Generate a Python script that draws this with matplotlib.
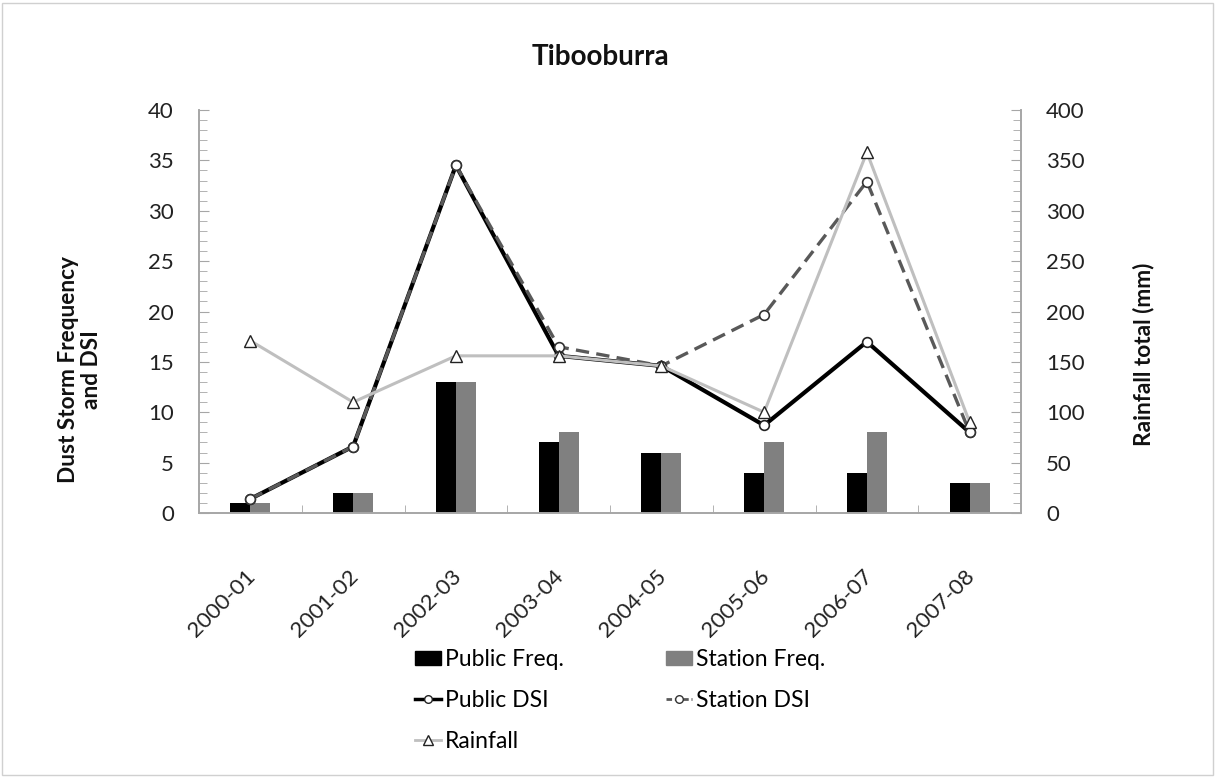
import matplotlib.pyplot as plt
import matplotlib.transforms as mtransforms
from matplotlib.patches import Rectangle, Patch
from matplotlib.ticker import MultipleLocator, FixedLocator
from matplotlib.lines import Line2D
import numpy as np

plt.rcParams['font.family'] = ['Lato', 'DejaVu Sans']

# dados por temporada
temporadas = ["2000-01", "2001-02", "2002-03", "2003-04",
              "2004-05", "2005-06", "2006-07", "2007-08"]
freq_publica = [1, 2, 13, 7, 6, 4, 4, 3]
freq_estacao = [1, 2, 13, 8, 6, 7, 8, 3]
dsi_publico = [1.4, 6.6, 34.5, 15.6, 14.6, 8.7, 17.0, 8.0]
dsi_estacao = [1.4, 6.6, 34.5, 16.5, 14.6, 19.7, 32.9, 8.0]
chuva = [171, 110, 156, 156, 146, 100, 358, 90]

cinza_eixo = "#a6a6a6"
x = np.arange(len(temporadas))
larg = 0.195

fig = plt.figure(figsize=(12.16, 7.77), dpi=100)
ax = fig.add_axes([199 / 1216, 1 - 513 / 777, 822 / 1216, 403 / 777])
ax2 = ax.twinx()

# barras de frequência
ax.bar(x - larg / 2, freq_publica, width=larg, color="black", zorder=2)
ax.bar(x + larg / 2, freq_estacao, width=larg, color="#808080", zorder=2)

# linhas de DSI
ax.plot(x, dsi_publico, color="black", lw=3, marker="o", ms=7,
        mfc="white", mec="#222222", mew=1.2, zorder=3)
ax.plot(x, dsi_estacao, color="#595959", lw=2.4, ls=(0, (4, 2.2)), marker="o", ms=7,
        mfc="white", mec="#333333", mew=1.2, zorder=4)

# chuva no eixo secundário
ax2.plot(x, chuva, color="#bfbfbf", lw=2.2, marker="^", ms=8.5,
         mfc="white", mec="#222222", mew=1.0, zorder=3)

ax.set_xlim(-0.5, 7.5)
ax.set_ylim(0, 40)
ax2.set_ylim(0, 400)

ax.yaxis.set_major_locator(MultipleLocator(5))
ax.yaxis.set_minor_locator(MultipleLocator(1))
ax2.yaxis.set_major_locator(MultipleLocator(50))
ax2.yaxis.set_minor_locator(MultipleLocator(10))

ax.set_xticks(x)
ax.set_xticklabels(temporadas, rotation=45, ha="right", rotation_mode="anchor",
                   fontsize=16, color="#222222")
ax.xaxis.set_minor_locator(FixedLocator(np.arange(0.5, 7.5, 1)))
ax.tick_params(axis="x", which="major", length=0, pad=38)
ax.tick_params(axis="x", which="minor", direction="in", length=6, color=cinza_eixo)

ax.tick_params(axis="y", which="both", direction="in", color=cinza_eixo,
               labelsize=16, labelcolor="#222222", pad=18)
ax.tick_params(axis="y", which="major", length=7)
ax.tick_params(axis="y", which="minor", length=6)
ax2.tick_params(axis="y", which="both", direction="in", color=cinza_eixo,
                labelsize=16, labelcolor="#222222", pad=18)
ax2.tick_params(axis="y", which="major", length=7)
ax2.tick_params(axis="y", which="minor", length=6)

for a in (ax, ax2):
    a.spines["top"].set_visible(False)
    for s in ("left", "right", "bottom"):
        a.spines[s].set_color(cinza_eixo)
        a.spines[s].set_linewidth(1.2)

desloc = mtransforms.ScaledTranslation(-0.05, 0, fig.dpi_scale_trans)
for lbl in ax.get_xticklabels():
    lbl.set_transform(lbl.get_transform() + desloc)

# títulos
fig.text(600 / 1216, 1 - 57 / 777, "Tibooburra", ha="center", va="center",
         fontsize=20, fontweight="bold", color="#111111")
fig.text(80 / 1216, 1 - 370 / 777, "Dust Storm Frequency\nand DSI", rotation=90,
         ha="center", va="center", multialignment="center",
         fontsize=16.3, fontweight="bold", color="#111111", linespacing=1.15)
fig.text(1143 / 1216, 1 - 354 / 777, "Rainfall total (mm)", rotation=90,
         ha="center", va="center", fontsize=16.3, fontweight="bold", color="#111111")

# legenda
alcas = [
    Patch(color="black", label="Public Freq."),
    Line2D([], [], color="black", lw=2.5, marker="o", ms=5.5, mfc="white",
           mec="#222222", label="Public DSI"),
    Line2D([], [], color="#bfbfbf", lw=2, marker="^", ms=6.5, mfc="white",
           mec="#222222", label="Rainfall"),
    Patch(color="#808080", label="Station Freq."),
    Line2D([], [], color="#595959", lw=2, ls=(0, (2, 1)), marker="o", ms=5.5,
           mfc="white", mec="#333333", label="Station DSI"),
]
fig.legend(handles=alcas, ncol=2, loc="upper left",
           bbox_to_anchor=(415 / 1216, 1 - 649 / 777), frameon=False,
           fontsize=16.5, handlelength=1.13, handleheight=0.55, handletextpad=0.18,
           labelspacing=0.87, columnspacing=4.45, borderpad=0, borderaxespad=0)

# borda da figura
fig.patches.append(Rectangle((2 / 1216, 2 / 777), 1211 / 1216, 772 / 777,
                             transform=fig.transFigure, fill=False,
                             edgecolor="#d0d0d0", lw=1))

fig.savefig("out.png", dpi=100)
